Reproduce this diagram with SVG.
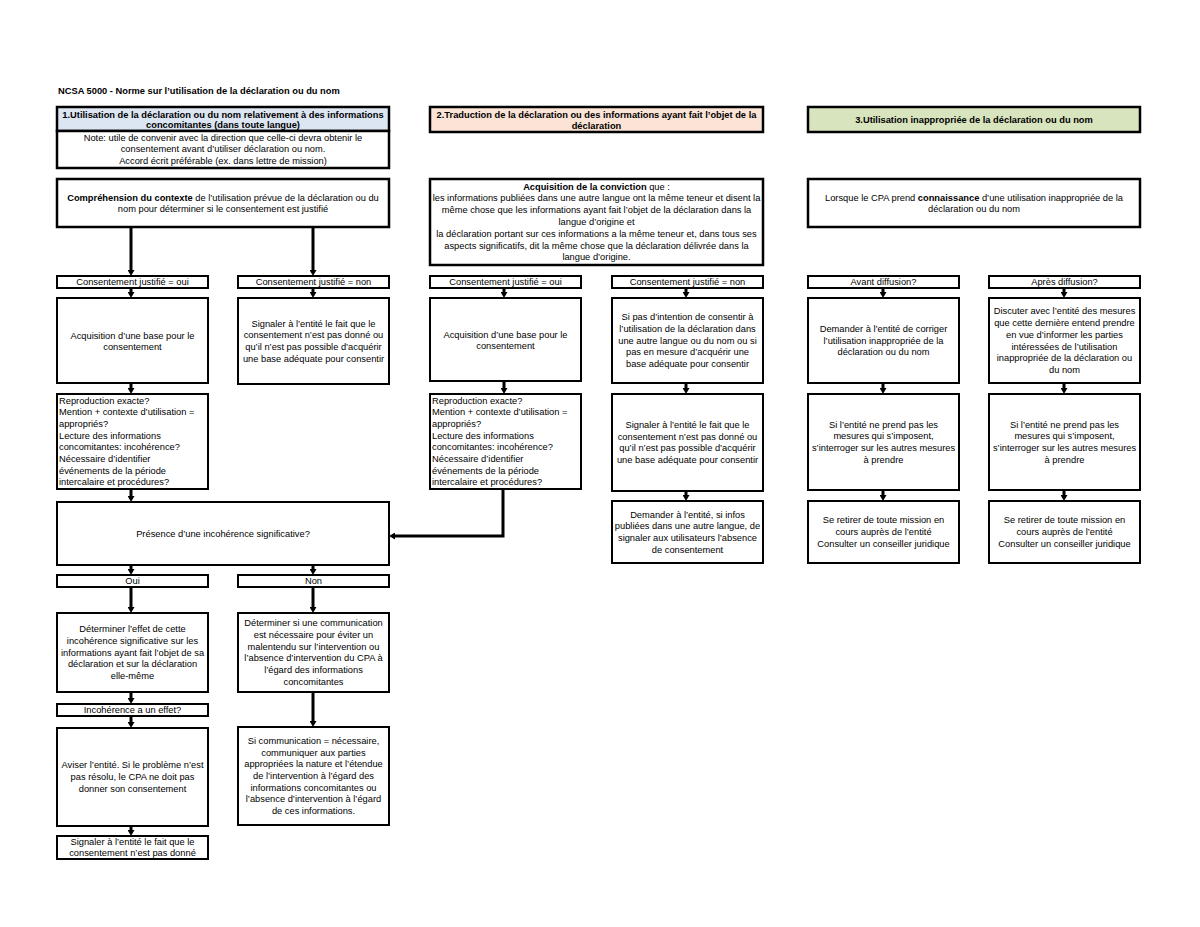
<svg xmlns="http://www.w3.org/2000/svg" width="1200" height="927" viewBox="0 0 1200 927">
<defs>
<style>
.bx{fill:#fff;stroke:#000;stroke-width:2}
.hd{stroke:#000;stroke-width:2.5}
text{font-family:"Liberation Sans",Arial,sans-serif;font-size:9.3px;fill:#000}
.c{text-anchor:middle}
.b{font-weight:bold}
.cn{fill:none;stroke:#000;stroke-width:3;marker-end:url(#ah)}
</style>
<marker id="ah" markerUnits="userSpaceOnUse" markerWidth="7" markerHeight="7" refX="2" refY="3.5" orient="auto">
<path d="M0,0 L6,3.5 L0,7 z" fill="#000"/>
</marker>
</defs>
<rect width="1200" height="927" fill="#fff"/>
<text id="title" x="58" y="94" class="b">NCSA 5000 - Norme sur l’utilisation de la déclaration ou du nom</text>

<g id="connectors">
<path class="cn" d="M131,227 V272"/>
<path class="cn" d="M313,227 V272"/>
<path class="cn" d="M131,288 V294"/>
<path class="cn" d="M313,288 V294"/>
<path class="cn" d="M131,383 V390"/>
<path class="cn" d="M131,489 V498"/>
<path class="cn" d="M131,565 V571"/>
<path class="cn" d="M313,565 V571"/>
<path class="cn" d="M131,587 V609"/>
<path class="cn" d="M313,587 V609"/>
<path class="cn" d="M131,692 V700"/>
<path class="cn" d="M131,716 V724"/>
<path class="cn" d="M313,692 V723"/>
<path class="cn" d="M131,826 V832"/>
<path class="cn" d="M504,288 V294"/>
<path class="cn" d="M686,288 V294"/>
<path class="cn" d="M504,381 V390"/>
<path class="cn" d="M686,383 V390"/>
<path class="cn" d="M686,491 V497"/>
<path class="cn" d="M503,489 V536 H393"/>
<path class="cn" d="M883,288 V294"/>
<path class="cn" d="M1064,288 V294"/>
<path class="cn" d="M883,383 V390"/>
<path class="cn" d="M1064,383 V390"/>
<path class="cn" d="M883,490 V497"/>
<path class="cn" d="M1064,490 V497"/>
</g>

<g id="h1">
<rect class="hd" x="57" y="107" width="332" height="24" fill="#dce6f2"/>
<text class="c b" x="223" y="117.5">1.Utilisation de la déclaration ou du nom relativement à des informations</text>
<text class="c b" x="223" y="128">concomitantes (dans toute langue)</text>
</g>
<g id="note1">
<rect class="hd" x="57" y="131" width="332" height="37" fill="#fff"/>
<text class="c" x="223" y="140.5">Note: utile de convenir avec la direction que celle-ci devra obtenir le</text>
<text class="c" x="223" y="152">consentement avant d’utiliser déclaration ou nom.</text>
<text class="c" x="223" y="163.5">Accord  écrit préférable (ex. dans lettre de mission)</text>
</g>
<g id="comp1">
<rect class="hd" x="57" y="179" width="332" height="48" fill="#fff"/>
<text class="c" x="223" y="200.5"><tspan class="b">Compréhension du contexte</tspan> de l’utilisation prévue de la déclaration ou du</text>
<text class="c" x="223" y="212.2">nom pour déterminer si le consentement est justifié</text>
</g>

<g id="h2">
<rect class="hd" x="430" y="107" width="333" height="25" fill="#fbe4d5"/>
<text class="c b" x="596.5" y="118">2.Traduction de la déclaration ou des informations ayant fait l’objet de la</text>
<text class="c b" x="596.5" y="129">déclaration</text>
</g>
<g id="acq2">
<rect class="hd" x="430" y="179" width="333" height="86" fill="#fff"/>
<text class="c" x="596.5" y="189.6"><tspan class="b">Acquisition de la conviction</tspan> que :</text>
<text class="c" x="596.5" y="201.4">les informations publiées dans une autre langue ont la même teneur et disent la</text>
<text class="c" x="596.5" y="213.2">même chose que les informations ayant fait l’objet de la déclaration dans la</text>
<text class="c" x="596.5" y="225">langue d’origine et</text>
<text class="c" x="596.5" y="236.8">la déclaration portant sur ces informations a la  même teneur et, dans tous ses</text>
<text class="c" x="596.5" y="248.6">aspects significatifs, dit la même chose que la déclaration délivrée dans la</text>
<text class="c" x="596.5" y="260.4">langue d’origine.</text>
</g>

<g id="h3">
<rect class="hd" x="808" y="107" width="332" height="25" fill="#d7e4bd"/>
<text class="c b" x="974" y="123">3.Utilisation inappropriée de la déclaration ou du nom</text>
</g>
<g id="lors3">
<rect class="hd" x="808" y="179" width="332" height="48" fill="#fff"/>
<text class="c" x="974" y="200.5">Lorsque le CPA prend <tspan class="b">connaissance</tspan> d’une utilisation inappropriée de la</text>
<text class="c" x="974" y="212.2">déclaration ou du nom</text>
</g>

<g id="c1o"><rect class="bx" x="57" y="276" width="151" height="12"/><text class="c" x="132.5" y="285">Consentement justifié = oui</text></g>
<g id="c1n"><rect class="bx" x="238" y="276" width="151" height="12"/><text class="c" x="313.5" y="285">Consentement justifié = non</text></g>
<g id="c2o"><rect class="bx" x="430" y="276" width="151" height="12"/><text class="c" x="505.5" y="285">Consentement justifié = oui</text></g>
<g id="c2n"><rect class="bx" x="612" y="276" width="151" height="12"/><text class="c" x="687.5" y="285">Consentement justifié = non</text></g>
<g id="av3"><rect class="bx" x="808" y="276" width="151" height="12"/><text class="c" x="883.5" y="285">Avant diffusion?</text></g>
<g id="ap3"><rect class="bx" x="989" y="276" width="151" height="12"/><text class="c" x="1064.5" y="285">Après diffusion?</text></g>

<g id="acq1"><rect class="bx" x="57" y="298" width="151" height="85"/>
<text class="c" x="132.5" y="338.5">Acquisition d’une base pour le</text>
<text class="c" x="132.5" y="350.2">consentement</text></g>
<g id="sig1"><rect class="bx" x="238" y="298" width="151" height="86"/>
<text class="c" x="313.5" y="326.5">Signaler à l’entité le fait que le</text>
<text class="c" x="313.5" y="338.2">consentement n’est pas donné ou</text>
<text class="c" x="313.5" y="349.9">qu’il  n’est pas possible d’acquérir</text>
<text class="c" x="313.5" y="361.6">une base adéquate pour consentir</text></g>
<g id="acq2b"><rect class="bx" x="430" y="298" width="151" height="83"/>
<text class="c" x="505.5" y="337.5">Acquisition d’une base pour le</text>
<text class="c" x="505.5" y="349.2">consentement</text></g>
<g id="sip2"><rect class="bx" x="612" y="298" width="151" height="85"/>
<text class="c" x="687.5" y="320">Si pas d’intention de consentir à</text>
<text class="c" x="687.5" y="331.8">l’utilisation de la déclaration dans</text>
<text class="c" x="687.5" y="343.5">une autre langue ou du nom ou si</text>
<text class="c" x="687.5" y="355.3">pas en mesure d’acquérir une</text>
<text class="c" x="687.5" y="367">base adéquate pour consentir</text></g>
<g id="dem3"><rect class="bx" x="808" y="298" width="151" height="85"/>
<text class="c" x="883.5" y="331.8">Demander à l’entité de corriger</text>
<text class="c" x="883.5" y="343.5">l’utilisation inappropriée de la</text>
<text class="c" x="883.5" y="355.3">déclaration ou du nom</text></g>
<g id="dis3"><rect class="bx" x="989" y="298" width="151" height="85"/>
<text class="c" x="1064.5" y="314.3">Discuter avec l’entité des mesures</text>
<text class="c" x="1064.5" y="326">que cette dernière entend prendre</text>
<text class="c" x="1064.5" y="337.8">en vue d’informer les parties</text>
<text class="c" x="1064.5" y="349.5">intéressées de l’utilisation</text>
<text class="c" x="1064.5" y="361.3">inappropriée de la déclaration ou</text>
<text class="c" x="1064.5" y="373">du nom</text></g>

<g id="rep1"><rect class="bx" x="57" y="394" width="151" height="95"/>
<text x="59" y="403.5">Reproduction exacte?</text>
<text x="59" y="415.2">Mention + contexte d’utilisation =</text>
<text x="59" y="426.9">appropriés?</text>
<text x="59" y="438.6">Lecture des informations</text>
<text x="59" y="450.3">concomitantes: incohérence?</text>
<text x="59" y="462">Nécessaire d’identifier</text>
<text x="59" y="473.7">événements de la période</text>
<text x="59" y="485.4">intercalaire et procédures?</text></g>
<g id="rep2"><rect class="bx" x="430" y="394" width="151" height="95"/>
<text x="432" y="403.5">Reproduction exacte?</text>
<text x="432" y="415.2">Mention + contexte d’utilisation =</text>
<text x="432" y="426.9">appropriés?</text>
<text x="432" y="438.6">Lecture des informations</text>
<text x="432" y="450.3">concomitantes: incohérence?</text>
<text x="432" y="462">Nécessaire d’identifier</text>
<text x="432" y="473.7">événements de la période</text>
<text x="432" y="485.4">intercalaire et procédures?</text></g>
<g id="sig2"><rect class="bx" x="612" y="394" width="151" height="97"/>
<text class="c" x="687.5" y="428">Signaler à l’entité le fait que le</text>
<text class="c" x="687.5" y="439.7">consentement n’est pas donné ou</text>
<text class="c" x="687.5" y="451.4">qu’il  n’est pas possible d’acquérir</text>
<text class="c" x="687.5" y="463.1">une base adéquate pour consentir</text></g>
<g id="si3a"><rect class="bx" x="808" y="394" width="151" height="96"/>
<text class="c" x="883.5" y="427.5">Si l’entité ne prend pas les</text>
<text class="c" x="883.5" y="439.2">mesures qui s’imposent,</text>
<text class="c" x="883.5" y="450.9">s’interroger sur les autres mesures</text>
<text class="c" x="883.5" y="462.6">à prendre</text></g>
<g id="si3b"><rect class="bx" x="989" y="394" width="151" height="96"/>
<text class="c" x="1064.5" y="427.5">Si l’entité ne prend pas les</text>
<text class="c" x="1064.5" y="439.2">mesures qui s’imposent,</text>
<text class="c" x="1064.5" y="450.9">s’interroger sur les autres mesures</text>
<text class="c" x="1064.5" y="462.6">à prendre</text></g>

<g id="dem2"><rect class="bx" x="612" y="501" width="151" height="62"/>
<text class="c" x="687.5" y="517.5">Demander à l’entité, si infos</text>
<text class="c" x="687.5" y="529.2">publiées dans une autre langue, de</text>
<text class="c" x="687.5" y="540.9">signaler aux utilisateurs l’absence</text>
<text class="c" x="687.5" y="552.6">de consentement</text></g>
<g id="ret3a"><rect class="bx" x="808" y="501" width="151" height="62"/>
<text class="c" x="883.5" y="523.3">Se retirer de toute mission en</text>
<text class="c" x="883.5" y="535">cours auprès de l’entité</text>
<text class="c" x="883.5" y="546.7">Consulter un conseiller juridique</text></g>
<g id="ret3b"><rect class="bx" x="989" y="501" width="151" height="62"/>
<text class="c" x="1064.5" y="523.3">Se retirer de toute mission en</text>
<text class="c" x="1064.5" y="535">cours auprès de l’entité</text>
<text class="c" x="1064.5" y="546.7">Consulter un conseiller juridique</text></g>

<g id="pres"><rect class="bx" x="57" y="502" width="332" height="63"/>
<text class="c" x="223" y="536.5">Présence d’une incohérence significative?</text></g>
<g id="oui"><rect class="bx" x="57" y="575" width="151" height="12"/><text class="c" x="132.5" y="584">Oui</text></g>
<g id="non"><rect class="bx" x="238" y="575" width="151" height="12"/><text class="c" x="313.5" y="584">Non</text></g>
<g id="det1"><rect class="bx" x="57" y="613" width="151" height="79"/>
<text class="c" x="132.5" y="632">Déterminer l’effet de cette</text>
<text class="c" x="132.5" y="643.8">incohérence significative sur les</text>
<text class="c" x="132.5" y="655.5">informations ayant fait l’objet de sa</text>
<text class="c" x="132.5" y="667.2">déclaration et sur la déclaration</text>
<text class="c" x="132.5" y="679">elle-même</text></g>
<g id="det2"><rect class="bx" x="238" y="613" width="151" height="79"/>
<text class="c" x="313.5" y="626.3">Déterminer si une communication</text>
<text class="c" x="313.5" y="638">est nécessaire pour éviter un</text>
<text class="c" x="313.5" y="649.7">malentendu sur l’intervention ou</text>
<text class="c" x="313.5" y="661.3">l’absence d’intervention du CPA à</text>
<text class="c" x="313.5" y="673">l’égard des informations</text>
<text class="c" x="313.5" y="684.7">concomitantes</text></g>
<g id="inc"><rect class="bx" x="57" y="704" width="151" height="12"/><text class="c" x="132.5" y="713">Incohérence a un effet?</text></g>
<g id="avi"><rect class="bx" x="57" y="728" width="151" height="98"/>
<text class="c" x="132.5" y="768.3">Aviser l’entité. Si le problème n’est</text>
<text class="c" x="132.5" y="780">pas résolu, le CPA ne doit pas</text>
<text class="c" x="132.5" y="791.7">donner son consentement</text></g>
<g id="sic"><rect class="bx" x="238" y="727" width="151" height="98"/>
<text class="c" x="313.5" y="743.9">Si communication = nécessaire,</text>
<text class="c" x="313.5" y="755.6">communiquer aux parties</text>
<text class="c" x="313.5" y="767.3">appropriées la nature et l’étendue</text>
<text class="c" x="313.5" y="779">de l’intervention à l’égard des</text>
<text class="c" x="313.5" y="790.7">informations concomitantes ou</text>
<text class="c" x="313.5" y="802.4">l’absence d’intervention à l’égard</text>
<text class="c" x="313.5" y="814.1">de ces informations.</text></g>
<g id="fin"><rect class="bx" x="57" y="836" width="151" height="23"/>
<text class="c" x="132.5" y="844.7">Signaler à l’entité le fait que le</text>
<text class="c" x="132.5" y="856.3">consentement n’est pas donné</text></g>
</svg>
